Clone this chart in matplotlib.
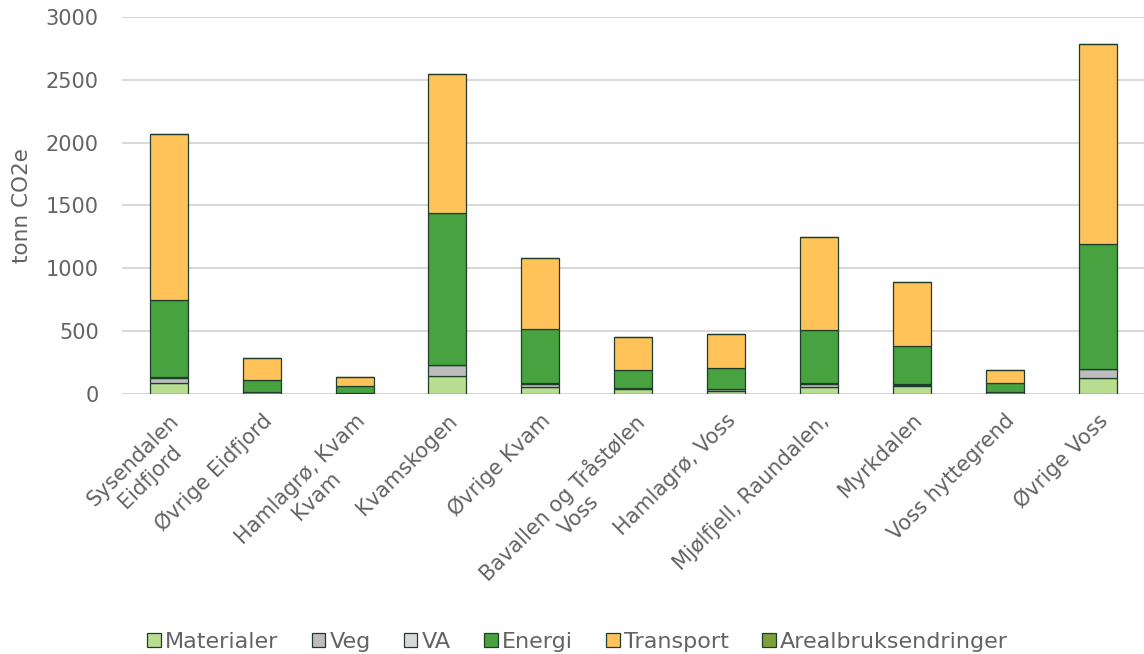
import numpy as np
import matplotlib.pyplot as plt

plt.rcParams['font.family'] = ['DejaVu Sans']

# Utslipp per hytteområde, tonn CO2e
omrader = [
    'Sysendalen\nEidfjord', 'Øvrige Eidfjord', 'Hamlagrø, Kvam\nKvam', 'Kvamskogen',
    'Øvrige Kvam', 'Bavallen og Tråstølen\nVoss', 'Hamlagrø, Voss',
    'Mjølfjell, Raundalen,', 'Myrkdalen', 'Voss hyttegrend', 'Øvrige Voss',
]
materialer = [85, 10, 5, 145, 50, 35, 25, 55, 58, 10, 125]
veg = [40, 5, 2, 80, 25, 10, 10, 25, 15, 5, 70]
va = [5, 2, 1, 5, 10, 3, 3, 5, 5, 2, 5]
energi = [620, 95, 50, 1210, 430, 140, 165, 420, 305, 70, 990]
transport = [1320, 175, 75, 1110, 565, 265, 270, 745, 505, 100, 1595]
arealbruk = [0, 0, 0, 0, 0, 0, 0, 0, 0, 0, 0]

serier = [
    ('Materialer', materialer, '#B8DD91'),
    ('Veg', veg, '#BDBDBD'),
    ('VA', va, '#D9D9D9'),
    ('Energi', energi, '#47A23F'),
    ('Transport', transport, '#FFC359'),
    ('Arealbruksendringer', arealbruk, '#7EA03A'),
]
tekstfarge = '#636363'

fig = plt.figure(figsize=(11.44, 6.54), dpi=100)
ax = fig.add_axes([0.107, 0.398, 0.893, 0.576])

x = np.arange(len(omrader))
bunn = np.zeros(len(omrader))
for navn, verdier, farge in serier:
    ax.bar(x, verdier, 0.41, bottom=bunn, color=farge, edgecolor='#1F3D2B',
           linewidth=0.9, label=navn, zorder=3)
    bunn += np.array(verdier)

ax.set_ylim(0, 3000)
ax.set_xlim(-0.5, len(omrader) - 0.5)
ax.set_yticks(range(0, 3001, 500))
ax.yaxis.grid(True, color='#D9D9D9', linewidth=1.5, zorder=0)
ax.set_axisbelow(True)
for s in ax.spines.values():
    s.set_visible(False)
ax.tick_params(axis='y', length=0, labelsize=15, colors=tekstfarge, pad=17)
ax.tick_params(axis='x', length=0, labelsize=15, colors=tekstfarge, pad=12)
ax.set_ylabel('tonn CO2e', fontsize=15.5, color=tekstfarge, labelpad=10)

ax.set_xticks(x)
ax.set_xticklabels(omrader, rotation=45, ha='right', rotation_mode='anchor',
                   fontsize=15, color=tekstfarge, multialignment='center')

fig.legend(loc='lower center', bbox_to_anchor=(0.505, -0.027), ncol=6, frameon=False,
           fontsize=16, labelcolor=tekstfarge, handlelength=0.6, handleheight=0.6,
           handletextpad=0.2, columnspacing=1.5)

fig.savefig('out.png', dpi=100)
